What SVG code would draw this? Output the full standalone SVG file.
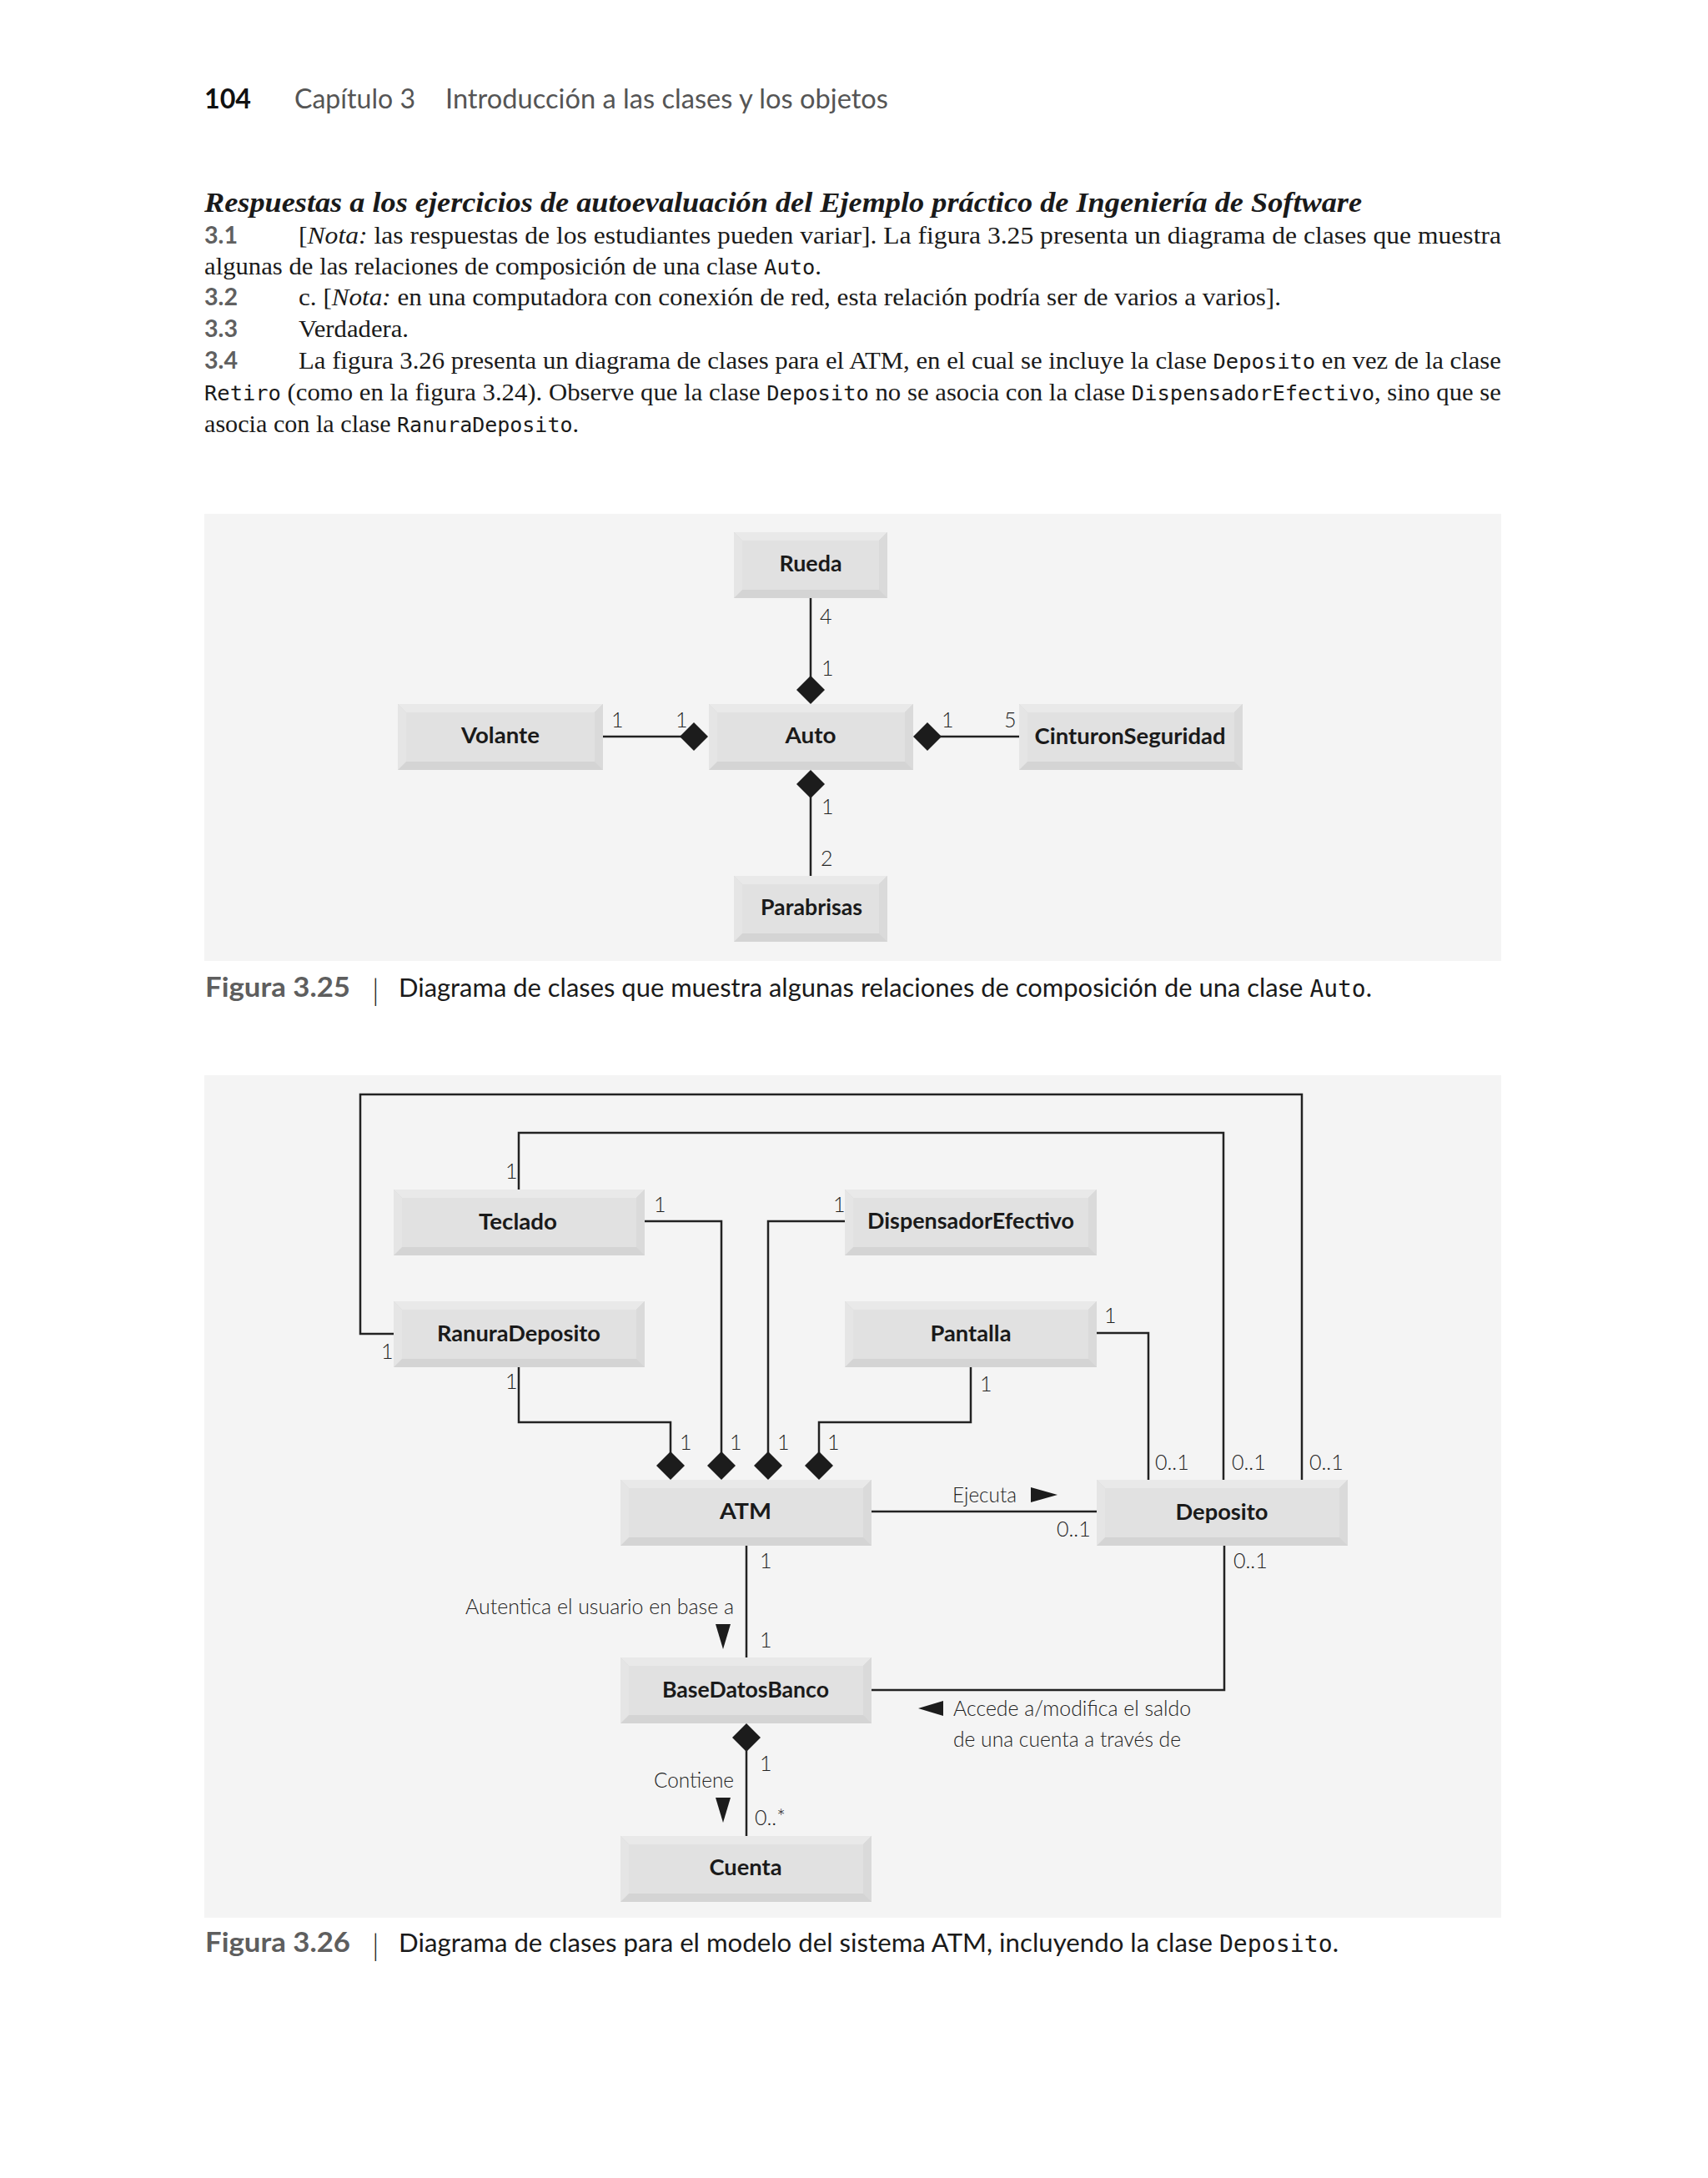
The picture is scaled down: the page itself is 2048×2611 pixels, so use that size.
<svg xmlns="http://www.w3.org/2000/svg" width="2048" height="2611" viewBox="0 0 2048 2611">
<style>
.pg{fill:#ffffff}
.panel{fill:#f4f4f4}
.bb{fill:#d4d4d4}.bt{fill:#e9e9e9}.bl{fill:#e5e5e5}.br{fill:#dadada}.bf{fill:#e1e1e1}
.lbl{font-family:Lato,"Open Sans","Liberation Sans",sans-serif;font-weight:700;font-size:27px;fill:#1a1a1a;text-anchor:middle}
.m{font-family:Lato,"Open Sans",sans-serif;font-weight:300;font-size:25px;fill:#222}
.ln{fill:none;stroke:#222;stroke-width:2.5}
.dia{fill:#1c1c1c}
.hd{font-family:Lato,"Open Sans",sans-serif;font-size:32px;fill:#555}
.hn{font-family:Lato,"Open Sans",sans-serif;font-weight:700;font-size:33px;fill:#111}
.ti{font-family:"Liberation Serif",serif;font-style:italic;font-weight:700;font-size:34px;fill:#1a1a1a}
.bd{font-family:"Liberation Serif",serif;font-size:29px;fill:#1a1a1a}
.it{font-style:italic}
.mo{font-family:"DejaVu Sans Mono","Liberation Mono",monospace;font-size:24px}
.num{font-family:Lato,"Open Sans",sans-serif;font-weight:700;font-size:29px;fill:#606060}
.cf{font-family:Lato,"Open Sans",sans-serif;font-weight:700;font-size:32px;fill:#5e5e5e}
.ct{font-family:Lato,"Open Sans",sans-serif;font-weight:400;font-size:31px;fill:#1a1a1a}
.bar{font-family:Lato,"Open Sans",sans-serif;font-weight:300;font-size:36px;fill:#222}
</style>
<rect class="pg" x="0" y="0" width="2048" height="2611"/>

<!-- page header and text -->
<g id="header">
<text class="hn" x="245" y="130" textLength="56" lengthAdjust="spacingAndGlyphs">104</text>
<text class="hd" x="353" y="130" textLength="145" lengthAdjust="spacingAndGlyphs">Capítulo 3</text>
<text class="hd" x="534" y="130" textLength="531" lengthAdjust="spacingAndGlyphs">Introducción a las clases y los objetos</text>
</g>
<g id="answers">
<text class="ti" x="245" y="254" textLength="1388" lengthAdjust="spacingAndGlyphs">Respuestas a los ejercicios de autoevaluación del Ejemplo práctico de Ingeniería de Software</text>
<text class="num" x="245" y="292" textLength="40" lengthAdjust="spacingAndGlyphs">3.1</text>
<text class="bd" x="358" y="292" textLength="1442" lengthAdjust="spacingAndGlyphs">[<tspan class="it">Nota:</tspan> las respuestas de los estudiantes pueden variar]. La figura 3.25 presenta un diagrama de clases que muestra</text>
<text class="bd" x="245" y="329" textLength="740" lengthAdjust="spacingAndGlyphs">algunas de las relaciones de composición de una clase <tspan class="mo">Auto</tspan>.</text>
<text class="num" x="245" y="366" textLength="40" lengthAdjust="spacingAndGlyphs">3.2</text>
<text class="bd" x="358" y="366" textLength="1178" lengthAdjust="spacingAndGlyphs">c. [<tspan class="it">Nota:</tspan> en una computadora con conexión de red, esta relación podría ser de varios a varios].</text>
<text class="num" x="245" y="404" textLength="40" lengthAdjust="spacingAndGlyphs">3.3</text>
<text class="bd" x="358" y="404" textLength="132" lengthAdjust="spacingAndGlyphs">Verdadera.</text>
<text class="num" x="245" y="442" textLength="40" lengthAdjust="spacingAndGlyphs">3.4</text>
<text class="bd" x="358" y="442" textLength="1442" lengthAdjust="spacingAndGlyphs">La figura 3.26 presenta un diagrama de clases para el ATM, en el cual se incluye la clase <tspan class="mo">Deposito</tspan> en vez de la clase</text>
<text class="bd" x="245" y="480" textLength="1555" lengthAdjust="spacingAndGlyphs"><tspan class="mo">Retiro</tspan> (como en la figura 3.24). Observe que la clase <tspan class="mo">Deposito</tspan> no se asocia con la clase <tspan class="mo">DispensadorEfectivo</tspan>, sino que se</text>
<text class="bd" x="245" y="518" textLength="449" lengthAdjust="spacingAndGlyphs">asocia con la clase <tspan class="mo">RanuraDeposito</tspan>.</text>
</g>

<!-- Figure 3.25 -->
<rect class="panel" x="245" y="616" width="1555" height="536"/>

<g id="fig325-connectors">
<line class="ln" x1="972" y1="717" x2="972" y2="812"/>
<polygon class="dia" points="972,810 989,827 972,844 955,827"/>
<line class="ln" x1="723" y1="883" x2="817" y2="883"/>
<polygon class="dia" points="815,883 832,866 849,883 832,900"/>
<polygon class="dia" points="1095,883 1112,866 1129,883 1112,900"/>
<line class="ln" x1="1127" y1="883" x2="1222" y2="883"/>
<polygon class="dia" points="972,923 989,940 972,957 955,940"/>
<line class="ln" x1="972" y1="955" x2="972" y2="1050"/>
<text class="m" x="983" y="748">4</text>
<text class="m" x="985" y="810">1</text>
<text class="m" x="733" y="872">1</text>
<text class="m" x="810" y="872">1</text>
<text class="m" x="1129" y="872">1</text>
<text class="m" x="1204" y="872">5</text>
<text class="m" x="985" y="976">1</text>
<text class="m" x="984" y="1038">2</text>
</g>

<g id="Rueda" transform="translate(880,638)">
<rect class="bb" width="184" height="79"/>
<polygon class="bt" points="0,0 184,0 174,10 10,10"/>
<polygon class="bl" points="0,0 10,10 10,69 0,79"/>
<polygon class="br" points="184,0 184,79 174,69 174,10"/>
<rect class="bf" x="10" y="10" width="164" height="59"/>
<text class="lbl" x="92" y="47" textLength="75" lengthAdjust="spacingAndGlyphs">Rueda</text>
</g>
<g id="Volante" transform="translate(477,844)">
<rect class="bb" width="246" height="79"/>
<polygon class="bt" points="0,0 246,0 236,10 10,10"/>
<polygon class="bl" points="0,0 10,10 10,69 0,79"/>
<polygon class="br" points="246,0 246,79 236,69 236,10"/>
<rect class="bf" x="10" y="10" width="226" height="59"/>
<text class="lbl" x="123" y="47" textLength="94" lengthAdjust="spacingAndGlyphs">Volante</text>
</g>
<g id="Auto" transform="translate(850,844)">
<rect class="bb" width="245" height="79"/>
<polygon class="bt" points="0,0 245,0 235,10 10,10"/>
<polygon class="bl" points="0,0 10,10 10,69 0,79"/>
<polygon class="br" points="245,0 245,79 235,69 235,10"/>
<rect class="bf" x="10" y="10" width="225" height="59"/>
<text class="lbl" x="122" y="47" textLength="61" lengthAdjust="spacingAndGlyphs">Auto</text>
</g>
<g id="CinturonSeguridad" transform="translate(1222,844)">
<rect class="bb" width="268" height="79"/>
<polygon class="bt" points="0,0 268,0 258,10 10,10"/>
<polygon class="bl" points="0,0 10,10 10,69 0,79"/>
<polygon class="br" points="268,0 268,79 258,69 258,10"/>
<rect class="bf" x="10" y="10" width="248" height="59"/>
<text class="lbl" x="133" y="48" textLength="229" lengthAdjust="spacingAndGlyphs">CinturonSeguridad</text>
</g>
<g id="Parabrisas" transform="translate(880,1050)">
<rect class="bb" width="184" height="79"/>
<polygon class="bt" points="0,0 184,0 174,10 10,10"/>
<polygon class="bl" points="0,0 10,10 10,69 0,79"/>
<polygon class="br" points="184,0 184,79 174,69 174,10"/>
<rect class="bf" x="10" y="10" width="164" height="59"/>
<text class="lbl" x="93" y="47" textLength="122" lengthAdjust="spacingAndGlyphs">Parabrisas</text>
</g>

<g id="caption325">
<text class="cf" x="246" y="1195" textLength="174" lengthAdjust="spacingAndGlyphs">Figura 3.25</text>
<text class="bar" x="446" y="1200">|</text>
<text class="ct" x="478" y="1195" textLength="1167" lengthAdjust="spacingAndGlyphs">Diagrama de clases que muestra algunas relaciones de composición de una clase <tspan class="mo" style="font-size:28px">Auto</tspan>.</text>
</g>

<!-- Figure 3.26 -->
<rect class="panel" x="245" y="1289" width="1555" height="1010"/>

<g id="fig326-connectors">
<polyline class="ln" points="622,1639 622,1705 804,1705 804,1742"/>
<polyline class="ln" points="773,1464 865,1464 865,1742"/>
<polyline class="ln" points="1013,1464 921,1464 921,1742"/>
<polyline class="ln" points="1164,1639 1164,1705 982,1705 982,1742"/>
<polygon class="dia" points="804,1740 821,1757 804,1774 787,1757"/>
<polygon class="dia" points="865,1740 882,1757 865,1774 848,1757"/>
<polygon class="dia" points="921,1740 938,1757 921,1774 904,1757"/>
<polygon class="dia" points="982,1740 999,1757 982,1774 965,1757"/>
<polyline class="ln" points="472,1599 432,1599 432,1312 1561,1312 1561,1774"/>
<polyline class="ln" points="622,1426 622,1358 1467,1358 1467,1774"/>
<polyline class="ln" points="1315,1598 1377,1598 1377,1774"/>
<line class="ln" x1="1045" y1="1812" x2="1315" y2="1812"/>
<line class="ln" x1="895" y1="1853" x2="895" y2="1987"/>
<polyline class="ln" points="1468,1853 1468,2026 1045,2026"/>
<polygon class="dia" points="895,2066 912,2083 895,2100 878,2083"/>
<line class="ln" x1="895" y1="2098" x2="895" y2="2201"/>
<polygon class="dia" points="1236,1783 1268,1792 1236,1801"/>
<polygon class="dia" points="858,1947 876,1947 867,1977"/>
<polygon class="dia" points="858,2155 876,2155 867,2185"/>
<polygon class="dia" points="1101,2048 1131,2039 1131,2057"/>

<text class="m" x="606" y="1413">1</text>
<text class="m" x="784" y="1453">1</text>
<text class="m" x="999" y="1453">1</text>
<text class="m" x="457" y="1629">1</text>
<text class="m" x="606" y="1665">1</text>
<text class="m" x="1324" y="1586">1</text>
<text class="m" x="1175" y="1668">1</text>
<text class="m" x="815" y="1738">1</text>
<text class="m" x="875" y="1738">1</text>
<text class="m" x="932" y="1738">1</text>
<text class="m" x="992" y="1738">1</text>
<text class="m" x="1385" y="1762">0..1</text>
<text class="m" x="1477" y="1762">0..1</text>
<text class="m" x="1570" y="1762">0..1</text>
<text class="m" x="1267" y="1842">0..1</text>
<text class="m" x="911" y="1880">1</text>
<text class="m" x="1479" y="1880">0..1</text>
<text class="m" x="911" y="1975">1</text>
<text class="m" x="911" y="2123">1</text>
<text class="m" x="905" y="2188">0..*</text>
<text class="m" x="1142" y="1801" textLength="77" lengthAdjust="spacingAndGlyphs">Ejecuta</text>
<text class="m" x="558" y="1935" textLength="322" lengthAdjust="spacingAndGlyphs">Autentica el usuario en base a</text>
<text class="m" x="1143" y="2057" textLength="285" lengthAdjust="spacingAndGlyphs">Accede a/modifica el saldo</text>
<text class="m" x="1143" y="2094" textLength="273" lengthAdjust="spacingAndGlyphs">de una cuenta a través de</text>
<text class="m" x="784" y="2143" textLength="96" lengthAdjust="spacingAndGlyphs">Contiene</text>
</g>

<g id="Teclado" transform="translate(472,1426)">
<rect class="bb" width="301" height="79"/>
<polygon class="bt" points="0,0 301,0 291,10 10,10"/>
<polygon class="bl" points="0,0 10,10 10,69 0,79"/>
<polygon class="br" points="301,0 301,79 291,69 291,10"/>
<rect class="bf" x="10" y="10" width="281" height="59"/>
<text class="lbl" x="149" y="48" textLength="94" lengthAdjust="spacingAndGlyphs">Teclado</text>
</g>
<g id="DispensadorEfectivo" transform="translate(1013,1426)">
<rect class="bb" width="302" height="79"/>
<polygon class="bt" points="0,0 302,0 292,10 10,10"/>
<polygon class="bl" points="0,0 10,10 10,69 0,79"/>
<polygon class="br" points="302,0 302,79 292,69 292,10"/>
<rect class="bf" x="10" y="10" width="282" height="59"/>
<text class="lbl" x="151" y="47" textLength="248" lengthAdjust="spacingAndGlyphs">DispensadorEfectivo</text>
</g>
<g id="RanuraDeposito" transform="translate(472,1560)">
<rect class="bb" width="301" height="79"/>
<polygon class="bt" points="0,0 301,0 291,10 10,10"/>
<polygon class="bl" points="0,0 10,10 10,69 0,79"/>
<polygon class="br" points="301,0 301,79 291,69 291,10"/>
<rect class="bf" x="10" y="10" width="281" height="59"/>
<text class="lbl" x="150" y="48" textLength="196" lengthAdjust="spacingAndGlyphs">RanuraDeposito</text>
</g>
<g id="Pantalla" transform="translate(1013,1560)">
<rect class="bb" width="302" height="79"/>
<polygon class="bt" points="0,0 302,0 292,10 10,10"/>
<polygon class="bl" points="0,0 10,10 10,69 0,79"/>
<polygon class="br" points="302,0 302,79 292,69 292,10"/>
<rect class="bf" x="10" y="10" width="282" height="59"/>
<text class="lbl" x="151" y="48" textLength="97" lengthAdjust="spacingAndGlyphs">Pantalla</text>
</g>
<g id="ATM" transform="translate(744,1774)">
<rect class="bb" width="301" height="79"/>
<polygon class="bt" points="0,0 301,0 291,10 10,10"/>
<polygon class="bl" points="0,0 10,10 10,69 0,79"/>
<polygon class="br" points="301,0 301,79 291,69 291,10"/>
<rect class="bf" x="10" y="10" width="281" height="59"/>
<text class="lbl" x="150" y="47" textLength="62" lengthAdjust="spacingAndGlyphs">ATM</text>
</g>
<g id="Deposito" transform="translate(1315,1774)">
<rect class="bb" width="301" height="79"/>
<polygon class="bt" points="0,0 301,0 291,10 10,10"/>
<polygon class="bl" points="0,0 10,10 10,69 0,79"/>
<polygon class="br" points="301,0 301,79 291,69 291,10"/>
<rect class="bf" x="10" y="10" width="281" height="59"/>
<text class="lbl" x="150" y="48" textLength="111" lengthAdjust="spacingAndGlyphs">Deposito</text>
</g>
<g id="BaseDatosBanco" transform="translate(744,1987)">
<rect class="bb" width="301" height="79"/>
<polygon class="bt" points="0,0 301,0 291,10 10,10"/>
<polygon class="bl" points="0,0 10,10 10,69 0,79"/>
<polygon class="br" points="301,0 301,79 291,69 291,10"/>
<rect class="bf" x="10" y="10" width="281" height="59"/>
<text class="lbl" x="150" y="48" textLength="200" lengthAdjust="spacingAndGlyphs">BaseDatosBanco</text>
</g>
<g id="Cuenta" transform="translate(744,2201)">
<rect class="bb" width="301" height="79"/>
<polygon class="bt" points="0,0 301,0 291,10 10,10"/>
<polygon class="bl" points="0,0 10,10 10,69 0,79"/>
<polygon class="br" points="301,0 301,79 291,69 291,10"/>
<rect class="bf" x="10" y="10" width="281" height="59"/>
<text class="lbl" x="150" y="47" textLength="87" lengthAdjust="spacingAndGlyphs">Cuenta</text>
</g>

<g id="caption326">
<text class="cf" x="246" y="2340" textLength="174" lengthAdjust="spacingAndGlyphs">Figura 3.26</text>
<text class="bar" x="446" y="2345">|</text>
<text class="ct" x="478" y="2340" textLength="1127" lengthAdjust="spacingAndGlyphs">Diagrama de clases para el modelo del sistema ATM, incluyendo la clase <tspan class="mo" style="font-size:28px">Deposito</tspan>.</text>
</g>
</svg>
